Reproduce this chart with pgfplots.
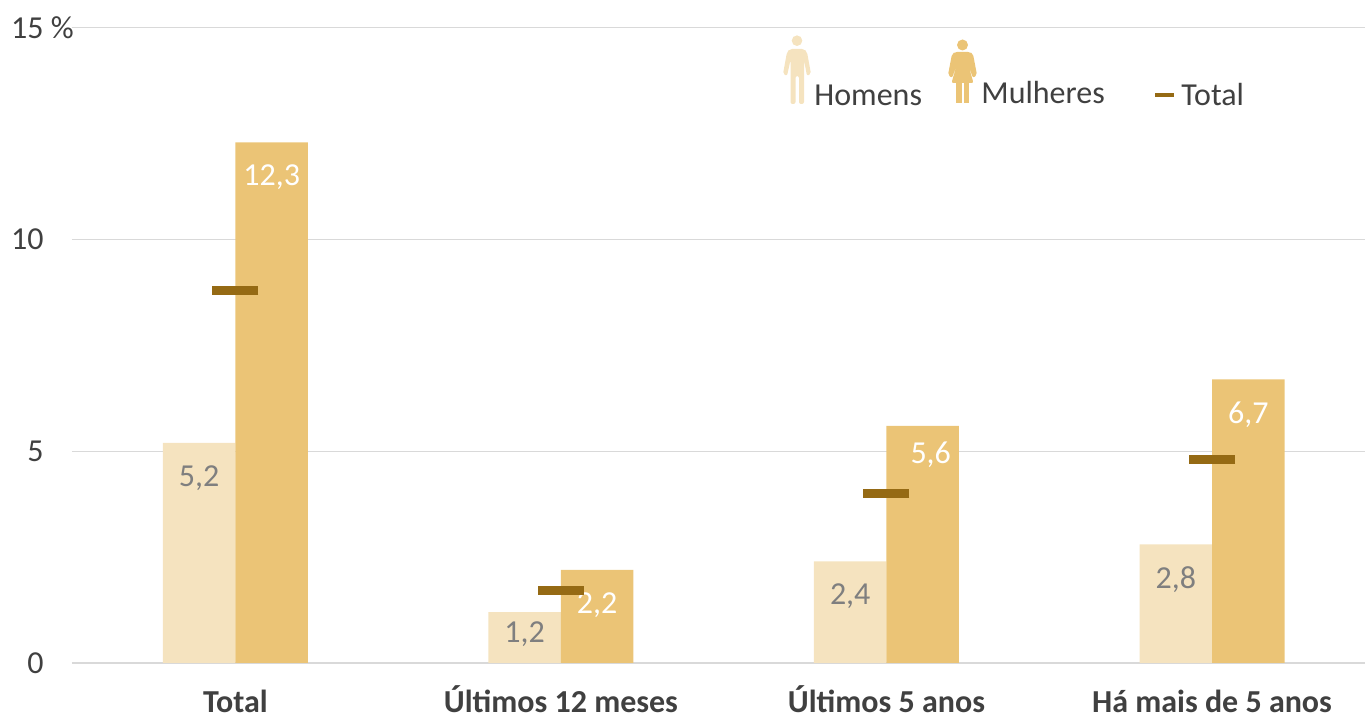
\documentclass[border=0pt]{standalone}
\usepackage{fontspec}
\setmainfont{Carlito}
\usepackage{pgfplots}
\pgfplotsset{compat=1.18}
\definecolor{homens}{HTML}{F5E3BF}
\definecolor{mulheres}{HTML}{EBC476}
\definecolor{totalc}{HTML}{956A14}
\definecolor{gridc}{HTML}{D9D9D9}
\definecolor{textc}{HTML}{404040}
\definecolor{labelc}{HTML}{7F7F7F}
\pgfplotsset{
    shiftedlabels/.style={
        nodes near coords,
        visualization depends on={\thisrow{dx} \as \labeldx},
        visualization depends on={\thisrow{dy} \as \labeldy},
        every node near coord/.append style={text=#1, xshift=\labeldx pt, yshift=\labeldy pt},
    },
}
\begin{document}
\begin{tikzpicture}[x=1pt,y=1pt]
\useasboundingbox (0,0) rectangle (682.5,358);
\begin{axis}[
    at={(36pt,26.5pt)},
    anchor=south west,
    scale only axis,
    width=646.5pt,
    height=317.5pt,
    xmin=-0.502, xmax=3.47,
    ymin=0, ymax=15,
    xtick={0,1,2,3},
    xticklabels={Total,Últimos 12 meses,Últimos 5 anos,Há mais de 5 anos},
    ytick={0,5,10,15},
    yticklabels={0,5,10,15\rlap{ \%}},
    major tick length=0pt,
    ymajorgrids=true,
    grid style={gridc, line width=0.5pt},
    axis x line*=bottom,
    axis y line*=left,
    x axis line style={draw=gridc, line width=1pt, -},
    y axis line style={draw=none, -},
    yticklabel style={font=\fontsize{16}{18}\selectfont, text=textc, anchor=east, inner sep=0pt, xshift=-14pt},
    xticklabel style={font=\fontsize{16}{18}\selectfont\bfseries, text=textc, text height=11pt, text depth=0pt, inner sep=0pt, yshift=-13.5pt},
    every node near coord/.append style={font=\fontsize{16}{18}\selectfont, anchor=center,
        /pgf/number format/assume math mode=true,
        /pgf/number format/use comma, /pgf/number format/fixed, /pgf/number format/fixed zerofill, /pgf/number format/precision=1},
]
% Homens
\addplot[ybar, bar width=36.25pt, bar shift=-18.125pt, fill=homens, draw=none, shiftedlabels=labelc]
    table {
x y dx dy
0 5.2 -18.125 -17.5
1 1.2 -18.125 -11
2 2.4 -18.125 -17.5
3 2.8 -18.125 -17.5
};
% Mulheres
\addplot[ybar, bar width=36.25pt, bar shift=18.125pt, fill=mulheres, draw=none, shiftedlabels=white]
    table {
x y dx dy
0 12.3 18.125 -17.5
1 2.2 18.125 -17.5
2 5.6 22.125 -14.5
3 6.7 18.125 -17.5
};
% Total
\addplot[only marks, mark=-, mark size=11.5pt, mark options={draw=totalc, line width=4.5pt}]
    coordinates {(0,8.8) (1,1.72) (2,4.0) (3,4.8)};
\end{axis}
% legenda, em pixels da imagem
\begin{scope}[x=0.5pt,y=-0.5pt,shift={(0,358pt)}]
  % homem
  \fill[homens] (797,40.7) circle (5.3);
  \fill[homens, rounded corners=1pt] (790,49) -- (804,49) -- (807,52) -- (811,74) -- (807,76) -- (804,60) -- (804,104) -- (799,104) -- (799,76) -- (795.5,76) -- (795.5,104) -- (790.5,104) -- (790.5,60) -- (787,76) -- (783,74) -- (787,52) -- cycle;
  % mulher
  \fill[mulheres] (962.5,45) circle (5.5);
  \fill[mulheres, rounded corners=1pt] (955,52) -- (970,52) -- (973,54) -- (977,75) -- (973,78) -- (968,64) -- (973.5,83) -- (951.5,83) -- (957,64) -- (952,78) -- (948,75) -- (952,54) -- cycle;
  \fill[mulheres] (956,82) rectangle (961.5,103);
  \fill[mulheres] (963.5,82) rectangle (969,103);
  % total
  \fill[totalc] (1155,93) rectangle (1174,97);
  \node[font=\fontsize{16}{18}\selectfont, text=textc, anchor=west, inner sep=0pt] at (814,95) {Homens};
  \node[font=\fontsize{16}{18}\selectfont, text=textc, anchor=west, inner sep=0pt] at (981,93) {Mulheres};
  \node[font=\fontsize{16}{18}\selectfont, text=textc, anchor=west, inner sep=0pt] at (1181,95) {Total};
\end{scope}
\end{tikzpicture}
\end{document}
